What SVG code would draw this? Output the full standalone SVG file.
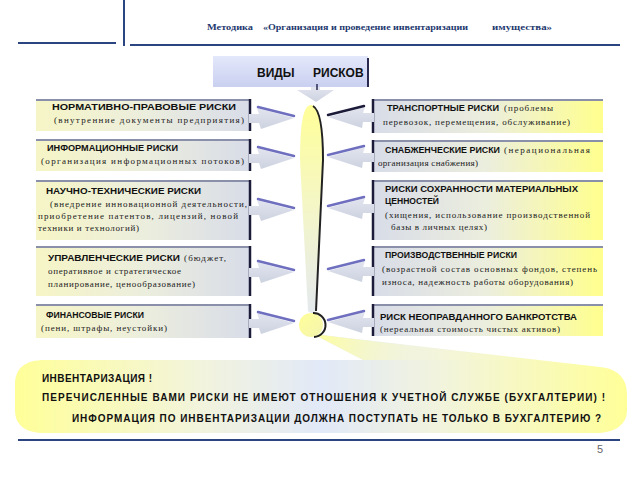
<svg xmlns="http://www.w3.org/2000/svg" width="640" height="480" viewBox="0 0 640 480">
<defs>
<linearGradient id="gL" x1="0" y1="0" x2="1" y2="0"><stop offset="0" stop-color="#f6f5c6"/><stop offset="0.5" stop-color="#eceedd"/><stop offset="1" stop-color="#d8dce8"/></linearGradient>
<linearGradient id="gR" x1="0" y1="0" x2="1" y2="0"><stop offset="0" stop-color="#d8dce8"/><stop offset="0.5" stop-color="#eceedd"/><stop offset="1" stop-color="#ffff8e"/></linearGradient>
<linearGradient id="gTop" x1="0" y1="0" x2="0" y2="1"><stop offset="0" stop-color="#e4e8fb"/><stop offset="1" stop-color="#c9d0f0"/></linearGradient>
<linearGradient id="gEx" x1="0" y1="0" x2="0" y2="1"><stop offset="0" stop-color="#ffff99"/><stop offset="0.5" stop-color="#f4f6c8"/><stop offset="1" stop-color="#e4e9ee"/></linearGradient>
<linearGradient id="gDot" x1="0" y1="0" x2="1" y2="1"><stop offset="0" stop-color="#ffff99"/><stop offset="1" stop-color="#f4f4b0"/></linearGradient>
<linearGradient id="gCall" x1="15" y1="0" x2="627" y2="0" gradientUnits="userSpaceOnUse"><stop offset="0" stop-color="#ffff99"/><stop offset="0.3" stop-color="#f2f4dc"/><stop offset="0.5" stop-color="#e2e9f8"/><stop offset="0.7" stop-color="#f2f4dc"/><stop offset="1" stop-color="#ffff99"/></linearGradient>
<linearGradient id="gWedge" x1="313" y1="334" x2="420" y2="362" gradientUnits="userSpaceOnUse"><stop offset="0" stop-color="#ffff99"/><stop offset="1" stop-color="#fbfbd0" stop-opacity="0.2"/></linearGradient>
<linearGradient id="gArr" x1="0" y1="0" x2="0" y2="1"><stop offset="0" stop-color="#e2e5ef"/><stop offset="1" stop-color="#cdd2e0"/></linearGradient>
<style>
.t{font-family:"Liberation Sans",Arial,sans-serif;font-weight:bold;font-size:9px;fill:#111}
.s{font-family:"Liberation Serif","Times New Roman",serif;font-size:9px;fill:#222}
.c{font-family:"Liberation Sans",Arial,sans-serif;font-weight:bold;font-size:10px;fill:#111}
.hd{font-family:"Liberation Serif","Times New Roman",serif;font-weight:bold;font-size:9px;fill:#1f3a70}
.vt{font-family:"Liberation Sans",Arial,sans-serif;font-weight:bold;font-size:12px;fill:#111}
.rule{stroke:#2a4580;stroke-width:2;fill:none}
.topl{stroke:#8a90aa;stroke-width:2}
.edge{stroke:#1c1c3a;stroke-width:2.5}
.arr{fill:url(#gArr)}
.bl{stroke:#6f6fc0;stroke-width:2.5;stroke-linecap:round}
</style>
</defs>
<rect width="640" height="480" fill="#ffffff"/>

<g id="header">
<line class="rule" x1="18" y1="43" x2="116" y2="43"/>
<line class="rule" x1="124" y1="0" x2="124" y2="46"/>
<line class="rule" x1="130" y1="45" x2="620" y2="45"/>
<text class="hd" x="207" y="30" textLength="46" lengthAdjust="spacingAndGlyphs">Методика</text>
<text class="hd" x="263" y="30" textLength="205" lengthAdjust="spacingAndGlyphs">«Организация и проведение инвентаризации</text>
<text class="hd" x="492" y="30" textLength="60" lengthAdjust="spacingAndGlyphs">имущества»</text>
</g>

<g id="vidy">
<rect x="213" y="56" width="155" height="31" fill="url(#gTop)"/>
<line x1="368" y1="58" x2="368" y2="87" stroke="#2a2a50" stroke-width="2"/>
<text class="vt" x="257" y="77">ВИДЫ</text>
<text class="vt" x="313" y="77">РИСКОВ</text>
</g>

<g id="excl">
<path d="M311,105 C319,105 323,125 323,160 L316,311 Q312,315 308,311 L300,160 C300,125 303,105 311,105 Z" fill="url(#gEx)"/>
<path d="M313,106 C320,110 323,130 323,160 L316,311" fill="none" stroke="#222" stroke-width="2"/>
</g>

<g id="callout">
<path d="M45,360 L363,360 L313,334 L600,367 C618,369 627,378 627,395 L627,410 C627,425 615,433 595,433 L45,433 C25,433 15,425 15,410 L15,385 C15,368 25,360 45,360 Z" fill="url(#gCall)"/>
<polygon points="313,334 363,360 529,360" fill="url(#gWedge)"/>
<text class="c" x="42" y="382" textLength="110" lengthAdjust="spacing">ИНВЕНТАРИЗАЦИЯ !</text>
<text class="c" x="42" y="401" textLength="563" lengthAdjust="spacing">ПЕРЕЧИСЛЕННЫЕ ВАМИ РИСКИ НЕ ИМЕЮТ ОТНОШЕНИЯ К УЧЕТНОЙ СЛУЖБЕ (БУХГАЛТЕРИИ) !</text>
<text class="c" x="72" y="422" textLength="529" lengthAdjust="spacing">ИНФОРМАЦИЯ ПО ИНВЕНТАРИЗАЦИИ ДОЛЖНА ПОСТУПАТЬ НЕ ТОЛЬКО В БУХГАЛТЕРИЮ ?</text>
</g>

<g id="dot">
<circle cx="311" cy="325" r="12" fill="url(#gDot)"/>
<path d="M313,313 A12,12 0 0 1 314,337" fill="none" stroke="#222" stroke-width="2"/>
</g>

<g id="L1">
<rect x="36" y="99" width="214" height="32" fill="url(#gL)"/>
<line class="topl" x1="36" y1="100" x2="250" y2="100"/>
<line class="edge" x1="250" y1="99" x2="250" y2="131"/>
<text class="t" x="52" y="110" textLength="184" lengthAdjust="spacingAndGlyphs">НОРМАТИВНО-ПРАВОВЫЕ  РИСКИ</text>
<text class="s" x="54" y="123" textLength="190" lengthAdjust="spacing">(внутренние документы предприятия)</text>
</g>
<g id="L2">
<rect x="36" y="139" width="214" height="32" fill="url(#gL)"/>
<line class="topl" x1="36" y1="140" x2="250" y2="140"/>
<line class="edge" x1="250" y1="139" x2="250" y2="171"/>
<text class="t" x="47" y="151" textLength="131" lengthAdjust="spacingAndGlyphs">ИНФОРМАЦИОННЫЕ  РИСКИ</text>
<text class="s" x="41" y="164" textLength="203" lengthAdjust="spacing">(организация информационных потоков)</text>
</g>
<g id="L3">
<rect x="36" y="180" width="214" height="60" fill="url(#gL)"/>
<line class="topl" x1="36" y1="181" x2="250" y2="181"/>
<line class="edge" x1="250" y1="180" x2="250" y2="240"/>
<text class="t" x="46" y="194" textLength="155" lengthAdjust="spacingAndGlyphs">НАУЧНО-ТЕХНИЧЕСКИЕ  РИСКИ</text>
<text class="s" x="50" y="207" textLength="197" lengthAdjust="spacing">(внедрение инновационной деятельности,</text>
<text class="s" x="38" y="219" textLength="200" lengthAdjust="spacing">приобретение патентов, лицензий, новой</text>
<text class="s" x="38" y="231" textLength="101" lengthAdjust="spacing">техники и технологий)</text>
</g>
<g id="L4">
<rect x="36" y="246" width="214" height="50" fill="url(#gL)"/>
<line class="topl" x1="36" y1="247" x2="250" y2="247"/>
<line class="edge" x1="250" y1="246" x2="250" y2="296"/>
<text class="t" x="48" y="261" textLength="132" lengthAdjust="spacingAndGlyphs">УПРАВЛЕНЧЕСКИЕ  РИСКИ</text>
<text class="s" x="184" y="261" textLength="42" lengthAdjust="spacing">(бюджет,</text>
<text class="s" x="48" y="274" textLength="133" lengthAdjust="spacing">оперативное и стратегическое</text>
<text class="s" x="48" y="287" textLength="147" lengthAdjust="spacing">планирование, ценообразование)</text>
</g>
<g id="L5">
<rect x="36" y="304" width="214" height="34" fill="url(#gL)"/>
<line class="topl" x1="36" y1="305" x2="250" y2="305"/>
<line class="edge" x1="250" y1="304" x2="250" y2="338"/>
<text class="t" x="46" y="318" textLength="98" lengthAdjust="spacingAndGlyphs">ФИНАНСОВЫЕ  РИСКИ</text>
<text class="s" x="41" y="331" textLength="126" lengthAdjust="spacing">(пени, штрафы, неустойки)</text>
</g>

<g id="R1">
<rect x="372" y="99" width="231" height="34" fill="url(#gR)"/>
<line class="topl" x1="372" y1="100" x2="603" y2="100"/>
<line class="edge" x1="373" y1="99" x2="373" y2="133"/>
<text class="t" x="387" y="111" textLength="112" lengthAdjust="spacingAndGlyphs">ТРАНСПОРТНЫЕ  РИСКИ</text>
<text class="s" x="504" y="111" textLength="49" lengthAdjust="spacing">(проблемы</text>
<text class="s" x="383" y="125" textLength="187" lengthAdjust="spacing">перевозок, перемещения, обслуживание)</text>
</g>
<g id="R2">
<rect x="372" y="140" width="231" height="32" fill="url(#gR)"/>
<line class="topl" x1="372" y1="141" x2="603" y2="141"/>
<line class="edge" x1="373" y1="140" x2="373" y2="172"/>
<text class="t" x="385" y="153" textLength="115" lengthAdjust="spacingAndGlyphs">СНАБЖЕНЧЕСКИЕ  РИСКИ</text>
<text class="s" x="504" y="153" textLength="86" lengthAdjust="spacing">(нерациональная</text>
<text class="s" x="378" y="166" textLength="100" lengthAdjust="spacing">организация снабжения)</text>
</g>
<g id="R3">
<rect x="372" y="180" width="231" height="60" fill="url(#gR)"/>
<line class="topl" x1="372" y1="181" x2="603" y2="181"/>
<line class="edge" x1="373" y1="180" x2="373" y2="240"/>
<text class="t" x="385" y="192" textLength="193" lengthAdjust="spacingAndGlyphs">РИСКИ  СОХРАННОСТИ  МАТЕРИАЛЬНЫХ</text>
<text class="t" x="385" y="204" textLength="54" lengthAdjust="spacingAndGlyphs">ЦЕННОСТЕЙ</text>
<text class="s" x="385" y="218" textLength="205" lengthAdjust="spacing">(хищения, использование производственной</text>
<text class="s" x="391" y="230" textLength="96" lengthAdjust="spacing">базы в личных целях)</text>
</g>
<g id="R4">
<rect x="372" y="246" width="231" height="50" fill="url(#gR)"/>
<line class="topl" x1="372" y1="247" x2="603" y2="247"/>
<line class="edge" x1="373" y1="246" x2="373" y2="296"/>
<text class="t" x="385" y="258" textLength="132" lengthAdjust="spacingAndGlyphs">ПРОИЗВОДСТВЕННЫЕ  РИСКИ</text>
<text class="s" x="382" y="272" textLength="215" lengthAdjust="spacing">(возрастной состав основных фондов, степень</text>
<text class="s" x="382" y="285" textLength="191" lengthAdjust="spacing">износа, надежность работы оборудования)</text>
</g>
<g id="R5">
<rect x="372" y="304" width="231" height="32" fill="url(#gR)"/>
<line class="topl" x1="372" y1="305" x2="603" y2="305"/>
<line class="edge" x1="373" y1="304" x2="373" y2="336"/>
<text class="t" x="380" y="320" textLength="197" lengthAdjust="spacingAndGlyphs">РИСК  НЕОПРАВДАННОГО  БАНКРОТСТВА</text>
<text class="s" x="380" y="332" textLength="180" lengthAdjust="spacing">(нереальная стоимость чистых активов)</text>
</g>

<g id="connectors">
<polygon class="arr" points="311,87 320,87 320,90 334,90 316,102 297,90 311,90"/>
<line x1="317" y1="84" x2="317" y2="90" stroke="#2a2a50" stroke-width="1.5"/>
<g id="leftArrows">
<polygon class="arr" points="249,114 259,114 257,108 294,118 261,129 259,123 249,123"/>
<line class="bl" x1="258" y1="107" x2="294" y2="116"/>
<polygon class="arr" points="249,154 259,154 257,148 294,158 261,169 259,163 249,163"/>
<line class="bl" x1="258" y1="147" x2="294" y2="156"/>
<polygon class="arr" points="249,206 259,206 257,200 294,210 261,221 259,215 249,215"/>
<line class="bl" x1="258" y1="199" x2="294" y2="208"/>
<polygon class="arr" points="249,268 259,268 257,262 294,272 261,283 259,277 249,277"/>
<line class="bl" x1="258" y1="261" x2="294" y2="270"/>
<polygon class="arr" points="249,319 259,319 257,313 294,323 261,334 259,328 249,328"/>
<line class="bl" x1="258" y1="312" x2="294" y2="321"/>
</g>
<g id="rightArrows">
<polygon class="arr" points="374,113 363,113 365,107 328,117 362,128 363,122 374,122"/>
<line x1="364" y1="106" x2="328" y2="115" stroke="#1c1c3a" stroke-width="2.5" stroke-linecap="round"/>
<polygon class="arr" points="374,153 363,153 365,147 328,157 362,168 363,162 374,162"/>
<line class="bl" x1="364" y1="146" x2="328" y2="155"/>
<polygon class="arr" points="374,204 363,204 365,198 328,208 362,219 363,213 374,213"/>
<line class="bl" x1="364" y1="197" x2="328" y2="206"/>
<polygon class="arr" points="374,267 363,267 365,261 328,271 362,282 363,276 374,276"/>
<line class="bl" x1="364" y1="260" x2="328" y2="269"/>
<polygon class="arr" points="374,318 363,318 365,312 328,322 362,333 363,327 374,327"/>
<line class="bl" x1="364" y1="311" x2="328" y2="320"/>
</g>
</g>

<g id="footer">
<line class="rule" x1="18" y1="440" x2="620" y2="440"/>
<text x="597" y="453" font-family="'Liberation Sans',Arial,sans-serif" font-size="11" fill="#666">5</text>
</g>
</svg>
